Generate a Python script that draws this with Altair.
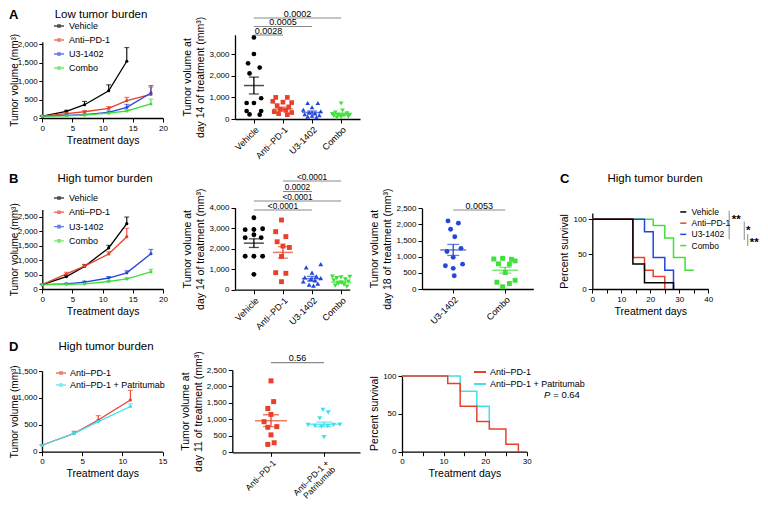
import json
import altair as alt
import pandas as pd

FONT = "Liberation Sans"
M = 8            # page margin
W, H = 752, 493  # whole drawing area

BLACK = "#000000"
RED = "#e8412b"
BLUE = "#2347d9"
GREEN = "#3fe03a"
CYAN = "#3fdff0"
GRAY = "#8a8a8a"

GROUPS = ["Vehicle", "Anti–PD-1", "U3-1402", "Combo"]
GROUP_COLORS = [BLACK, RED, BLUE, GREEN]
GROUP_SHAPES = ["circle", "square", "triangle-up", "triangle-down"]
D_GROUPS = ["Anti–PD-1", "Anti–PD-1 + Patritumab"]
D_COLORS = [RED, CYAN]
D_AXIS_LABELS = ["Anti–PD-1", ["Anti–PD-1 +", "Patritumab"]]

A_days = [0, 4, 7, 11, 14, 18]
A_vehicle = [50, 180, 360, 740, 1540]
A_vehicle_sem = [10, 30, 90, 160, 370]
A_anti = [50, 120, 170, 260, 470, 640]
A_anti_sem = [5, 20, 30, 50, 90, 200]
A_u3 = [50, 70, 90, 150, 290, 680]
A_u3_sem = [5, 10, 15, 40, 80, 200]
A_combo = [50, 60, 80, 130, 190, 380]
A_combo_sem = [5, 10, 15, 25, 40, 130]

A14_vehicle = [3780, 3010, 2580, 2380, 2110, 960, 740, 740, 370, 370, 210, 200]
A14_vehicle_jit = [0, 0, -0.2, 0.2, -0.15, 0.25, -0.25, 0.0, -0.25, 0.25, -0.15, 0.2]
A14_anti = [1000, 1000, 820, 780, 760, 620, 560, 450, 400, 340, 300, 250, 200]
A14_anti_jit = [-0.25, 0.15, -0.35, 0.0, 0.3, -0.2, 0.2, -0.1, 0.1, -0.3, 0.3, -0.15, 0.15]
A14_u3 = [740, 740, 540, 430, 360, 300, 260, 220, 180, 150, 110, 80]
A14_u3_jit = [-0.15, 0.2, 0.0, -0.3, 0.3, -0.1, 0.1, -0.25, 0.25, 0.0, -0.15, 0.15]
A14_combo = [720, 390, 300, 260, 230, 200, 180, 160, 140, 110, 90, 60]
A14_combo_jit = [0.0, 0.05, -0.2, 0.2, -0.3, 0.3, -0.1, 0.1, -0.25, 0.25, 0.0, -0.15]
A14_means = [1550, 460, 300, 220]
A14_sems = [390, 90, 70, 60]
A14_brackets = [(0, 1, 3891, "0.0028"), (0, 2, 4284, "0.0005"), (0, 3, 4678, "0.0002")]

B_days = [0, 4, 7, 11, 14, 18]
B_vehicle = [150, 430, 780, 1420, 2260]
B_vehicle_sem = [10, 40, 60, 90, 230]
B_anti = [150, 520, 790, 1210, 1810]
B_anti_sem = [10, 60, 60, 80, 290]
B_u3 = [150, 180, 240, 380, 560, 1220]
B_u3_sem = [10, 20, 30, 50, 70, 150]
B_combo = [150, 160, 180, 260, 350, 590]
B_combo_sem = [10, 10, 20, 30, 40, 90]

B14_vehicle = [3510, 2930, 2940, 2970, 2680, 2540, 2540, 1630, 1630, 1630, 750]
B14_vehicle_jit = [0.0, -0.3, 0.0, 0.3, 0.0, -0.3, 0.25, -0.3, 0.0, 0.3, 0.0]
B14_anti = [3400, 2830, 2590, 2340, 2130, 2060, 1620, 830, 800, 390]
B14_anti_jit = [-0.05, -0.25, 0.1, -0.2, 0.0, 0.22, -0.05, -0.25, 0.1, -0.05]
B14_u3 = [1250, 1090, 830, 650, 600, 560, 500, 450, 400, 300, 250, 200]
B14_u3_jit = [0.3, -0.2, 0.0, 0.15, -0.25, 0.3, -0.05, 0.1, -0.3, 0.2, -0.1, 0.05]
B14_combo = [640, 620, 600, 560, 500, 450, 400, 350, 300, 250, 200, 150]
B14_combo_jit = [-0.3, 0.3, 0.0, -0.15, 0.15, -0.25, 0.25, 0.0, -0.1, 0.1, -0.2, 0.2]
B14_means = [2270, 1820, 540, 370]
B14_sems = [210, 280, 110, 50]
B14_brackets = [(0, 2, 3888, "<0.0001"), (0, 3, 4327, "<0.0001"),
                (1, 2, 4790, "0.0002"), (1, 3, 5303, "<0.0001")]

B18_groups = ["U3-1402", "Combo"]
B18_u3 = [2110, 2040, 1850, 1620, 1260, 1160, 980, 770, 720, 640, 410]
B18_u3_jit = [-0.1, 0.1, -0.05, 0.03, 0.15, -0.12, 0.0, 0.18, -0.15, 0.0, 0.02]
B18_combo = [950, 930, 920, 870, 780, 770, 510, 270, 210, 170, 70]
B18_combo_jit = [-0.05, -0.22, 0.12, 0.19, -0.13, 0.08, 0.0, 0.19, -0.16, 0.08, -0.05]
B18_means = [1210, 580]
B18_sems = [170, 90]
B18_brackets = [(0, 1, 2447, "0.0053")]

C_vehicle_t = [0, 14, 18, 28]
C_vehicle_s = [100, 36, 9, 0]
C_anti_t = [0, 14, 18, 21, 25]
C_anti_s = [100, 45, 27, 18, 0]
C_u3_t = [0, 18, 21, 25, 28]
C_u3_s = [100, 82, 45, 27, 0]
C_combo_t = [0, 21, 25, 28, 32, 35]
C_combo_s = [100, 91, 73, 45, 27, 27]

D_days = [0, 4, 7, 11]
D_anti = [120, 340, 590, 960]
D_anti_sem = [10, 40, 80, 180]
D_patri = [120, 340, 560, 840]
D_patri_sem = [10, 20, 30, 50]

D11_anti = [2170, 1540, 1330, 1150, 930, 780, 760, 530, 290, 240]
D11_anti_jit = [0.0, 0.05, -0.06, 0.0, -0.13, 0.11, -0.06, 0.0, 0.06, -0.06]
D11_patri = [1290, 1210, 1030, 830, 800, 780, 800, 830, 840, 460]
D11_patri_jit = [-0.02, 0.08, -0.08, -0.3, -0.17, -0.05, 0.07, 0.18, 0.3, 0.0]
D11_means = [960, 850]
D11_sems = [180, 70]
D11_brackets = [(0, 1, 2723, "0.56")]

D_anti_t = [0, 11, 14, 18, 21, 25, 28]
D_anti_s = [100, 90, 60, 40, 30, 10, 0]
D_patri_t = [0, 14, 18, 21]
D_patri_s = [100, 80, 60, 40]

# page-pixel geometry of each panel: x domain, x pixel span, y domain, y pixel span
GEO = {
    "A_line": ([0, 20], [42.3, 163], [0, 2070], [118, 41.7]),
    "A_dot": ([-0.65, 3.65], [235, 360], [0, 3900], [119, 34.8]),
    "B_line": ([0, 20], [42.3, 163], [0, 2750], [289, 209.5]),
    "B_dot1": ([-0.65, 3.3], [235, 349.8], [0, 4000], [289.7, 207.7]),
    "B_dot2": ([-0.6, 1.54], [422, 533.3], [0, 2500], [289, 208.3]),
    "C_surv": ([0, 40], [592.3, 708.3], [0, 109], [289, 213]),
    "D_line": ([0, 15], [42, 162.5], [0, 1500], [451.7, 371]),
    "D_dot": ([-0.73, 1.68], [232.3, 360], [0, 2500], [452.3, 370]),
    "D_surv": ([0, 30], [402, 526.7], [0, 102], [451.7, 374.5]),
}

DOT_PATH = "M-1,0H1M-0.22,-0.22H0.22V0.22H-0.22Z"


def scales(key):
    xd, xr, yd, yr = GEO[key]
    xs = alt.Scale(domain=xd, range=[xr[0] - M, xr[1] - M], nice=False, zero=False)
    ys = alt.Scale(domain=yd, range=[yr[0] - M, yr[1] - M], nice=False, zero=False)
    return xs, ys, xr[0] - M, yr[0] - M


def legend(xp, yp, size, font, row_pad, offset, symtype, sw):
    return alt.Legend(orient="none", legendX=xp - M, legendY=yp - M, title=None,
                      symbolType=symtype, symbolSize=size, symbolStrokeWidth=sw,
                      labelFont=FONT, labelFontSize=font, labelColor="black",
                      rowPadding=row_pad, labelOffset=offset, padding=0)


def growth_panel(key, days, names, colors, series, sems, yvals, xvals, leg):
    xs, ys, x0, y0 = scales(key)
    rows = []
    for name, vals, ss in zip(names, series, sems):
        for d, v, s in zip(days, vals, ss):
            rows.append({"day": d, "grp": name, "mean": v, "hi": v + s})
    base = alt.Chart(pd.DataFrame(rows))
    col = alt.Color("grp:N", scale=alt.Scale(domain=names, range=colors), legend=leg)
    xa = alt.Axis(orient="bottom", offset=y0 - H, values=xvals, title="Treatment days")
    ya = alt.Axis(orient="left", offset=-x0, values=yvals, title="Tumor volume (mm³)",
                  titleFontSize=10, titleX=-(x0 - 1.5), titleBaseline="top",
                  tickSize=3.5, labelPadding=1.5)
    X = alt.X("day:Q", scale=xs, axis=xa)

    def Y(f):
        return alt.Y(f, scale=ys, axis=ya)

    line = base.mark_line(strokeWidth=1.3).encode(x=X, y=Y("mean:Q"), color=col)
    err = base.mark_rule(strokeWidth=1.1).encode(x=X, y=Y("mean:Q"), y2="hi:Q", color=col)
    cap = base.mark_tick(orient="horizontal", size=5, thickness=1.1).encode(
        x=X, y=Y("hi:Q"), color=col)
    dots = base.mark_point(filled=True, size=10, opacity=1).encode(
        x=X, y=Y("mean:Q"), color=col)
    return alt.layer(line, err, cap, dots)


def dot_panel(key, names, colors, shapes, values, jitters, means, sems, yvals, ytitle,
              axis_labels, brackets, mean_w, cap_w, psize, bfont=9, lfont=9):
    xs, ys, x0, y0 = scales(key)
    rows = []
    for i, (n, vs, js) in enumerate(zip(names, values, jitters)):
        for v, j in zip(vs, js):
            rows.append({"g": i, "grp": n, "xp": i + j, "v": v})
    stats = pd.DataFrame({"g": list(range(len(names))), "grp": names, "mean": means,
                          "lo": [m - s for m, s in zip(means, sems)],
                          "hi": [m + s for m, s in zip(means, sems)]})
    bdf = pd.DataFrame([{"x1": a, "x2": b, "y": y, "label": t} for a, b, y, t in brackets])
    col = alt.Color("grp:N", scale=alt.Scale(domain=names, range=colors), legend=None)
    shp = alt.Shape("grp:N", scale=alt.Scale(domain=names, range=shapes), legend=None)
    expr = json.dumps(axis_labels, ensure_ascii=False) + "[datum.value]"
    xa = alt.Axis(orient="bottom", offset=y0 - H, values=list(range(len(names))),
                  labelExpr=expr, labelAngle=-45, labelAlign="right", labelBaseline="top",
                  labelFontSize=lfont, labelLineHeight=lfont + 0.5, title=None)
    ya = alt.Axis(orient="left", offset=-x0, values=yvals, title=ytitle)

    def X(f):
        return alt.X(f, scale=xs, axis=xa)

    def Y(f):
        return alt.Y(f, scale=ys, axis=ya)

    pts = alt.Chart(pd.DataFrame(rows)).mark_point(filled=True, size=psize, opacity=1).encode(
        x=X("xp:Q"), y=Y("v:Q"), color=col, shape=shp)
    sb = alt.Chart(stats)
    meanl = sb.mark_tick(orient="horizontal", size=mean_w, thickness=1.5).encode(
        x=X("g:Q"), y=Y("mean:Q"), color=col)
    semv = sb.mark_rule(strokeWidth=1.3).encode(x=X("g:Q"), y=Y("lo:Q"), y2="hi:Q", color=col)
    caplo = sb.mark_tick(orient="horizontal", size=cap_w, thickness=1.3).encode(
        x=X("g:Q"), y=Y("lo:Q"), color=col)
    caphi = sb.mark_tick(orient="horizontal", size=cap_w, thickness=1.3).encode(
        x=X("g:Q"), y=Y("hi:Q"), color=col)
    bb = alt.Chart(bdf)
    bl = bb.mark_rule(color=GRAY, strokeWidth=1.1).encode(
        x=X("x1:Q"), x2="x2:Q", y=Y("y:Q"))
    bt = bb.transform_calculate(xm="(datum.x1 + datum.x2) / 2").mark_text(
        font=FONT, fontSize=bfont, baseline="alphabetic", dy=-1.3, color="black").encode(
        x=X("xm:Q"), y=Y("y:Q"), text="label:N")
    return alt.layer(pts, meanl, semv, caplo, caphi, bl, bt)


def surv_panel(key, names, colors, times, survs, xvals, leg, extra):
    xs, ys, x0, y0 = scales(key)
    rows = []
    for n, ts, ss in zip(names, times, survs):
        for t, s in zip(ts, ss):
            rows.append({"t": t, "s": s, "grp": n})
    df = pd.DataFrame(rows)
    col = alt.Color("grp:N", scale=alt.Scale(domain=names, range=colors), legend=leg)
    xa = alt.Axis(orient="bottom", offset=y0 - H, values=xvals, title="Treatment days",
                  labelExpr="datum.value % 10 == 0 ? datum.label : ''")
    ya = alt.Axis(orient="left", offset=-x0, values=[0, 50, 100], title="Percent survival")

    def X(f):
        return alt.X(f, scale=xs, axis=xa)

    def Y(f):
        return alt.Y(f, scale=ys, axis=ya)

    layers = []
    for n in reversed(names):
        layers.append(alt.Chart(df).transform_filter(alt.datum.grp == n).mark_line(
            interpolate="step-after", strokeWidth=1.5).encode(
            x=X("t:Q"), y=Y("s:Q"), color=col))
    layers += extra(X, Y)
    return alt.layer(*layers)


def c_annot(X, Y):
    lines = pd.DataFrame({"x": [47.2, 52.4, 53.6], "y1": [112.3, 96.6, 78.9],
                          "y2": [71.3, 70.3, 61.7]})
    stars = pd.DataFrame({"x": [48.1, 53.0, 54.3], "y": [103.3, 88.2, 70.3],
                          "txt": ["**", "*", "**"]})
    r = alt.Chart(lines).mark_rule(color=GRAY, strokeWidth=1).encode(
        x=X("x:Q"), y=Y("y1:Q"), y2="y2:Q")
    t = alt.Chart(stars).mark_text(font=FONT, fontSize=11.5, fontWeight="bold", align="left",
                                   baseline="alphabetic", dy=6.5, color="black").encode(
        x=X("x:Q"), y=Y("y:Q"), text="txt:N")
    return [r, t]


def d_annot(X, Y):
    p = pd.DataFrame({"x": [35.7], "y": [74.9], "txt": ["P"]})
    v = pd.DataFrame({"x": [42.8], "y": [74.9], "txt": ["= 0.64"]})
    tp = alt.Chart(p).mark_text(font=FONT, fontSize=9.5, fontStyle="italic", align="right",
                                baseline="middle", color="black").encode(
        x=X("x:Q"), y=Y("y:Q"), text="txt:N")
    tv = alt.Chart(v).mark_text(font=FONT, fontSize=9.5, align="right",
                                baseline="middle", color="black").encode(
        x=X("x:Q"), y=Y("y:Q"), text="txt:N")
    return [tp, tv]


def label(text, xp, yp, size, weight="normal", align="center", baseline="middle"):
    return alt.Chart(pd.DataFrame({"t": [text]})).mark_text(
        font=FONT, fontSize=size, fontWeight=weight, align=align, baseline=baseline,
        color="black").encode(text="t:N", x=alt.value(xp - M), y=alt.value(yp - M))


panels = [
    growth_panel("A_line", A_days, GROUPS, GROUP_COLORS,
                 [A_vehicle, A_anti, A_u3, A_combo],
                 [A_vehicle_sem, A_anti_sem, A_u3_sem, A_combo_sem],
                 [0, 500, 1000, 1500, 2000], [0, 5, 10, 15, 20],
                 legend(53, 20, 100, 9, 3, 4, DOT_PATH, 1.4)),
    dot_panel("A_dot", GROUPS, GROUP_COLORS, GROUP_SHAPES,
              [A14_vehicle, A14_anti, A14_u3, A14_combo],
              [A14_vehicle_jit, A14_anti_jit, A14_u3_jit, A14_combo_jit],
              A14_means, A14_sems, [0, 1000, 2000, 3000],
              ["Tumor volume at", "day 14 of treatment (mm³)"], GROUPS, A14_brackets,
              20, 10, 22),
    growth_panel("B_line", B_days, GROUPS, GROUP_COLORS,
                 [B_vehicle, B_anti, B_u3, B_combo],
                 [B_vehicle_sem, B_anti_sem, B_u3_sem, B_combo_sem],
                 [0, 500, 1000, 1500, 2000, 2500], [0, 5, 10, 15, 20],
                 legend(53, 192, 100, 9, 3.3, 4, DOT_PATH, 1.4)),
    dot_panel("B_dot1", GROUPS, GROUP_COLORS, GROUP_SHAPES,
              [B14_vehicle, B14_anti, B14_u3, B14_combo],
              [B14_vehicle_jit, B14_anti_jit, B14_u3_jit, B14_combo_jit],
              B14_means, B14_sems, [0, 1000, 2000, 3000, 4000],
              ["Tumor volume at", "day 14 of treatment (mm³)"], GROUPS, B14_brackets,
              20, 10, 24, bfont=8.3),
    dot_panel("B_dot2", B18_groups, [BLUE, GREEN], ["circle", "square"],
              [B18_u3, B18_combo], [B18_u3_jit, B18_combo_jit],
              B18_means, B18_sems, [0, 500, 1000, 1500, 2000, 2500],
              ["Tumor volume at", "day 18 of treatment (mm³)"], B18_groups, B18_brackets,
              26, 12, 24),
    surv_panel("C_surv", GROUPS, GROUP_COLORS,
               [C_vehicle_t, C_anti_t, C_u3_t, C_combo_t],
               [C_vehicle_s, C_anti_s, C_u3_s, C_combo_s],
               list(range(0, 41, 5)),
               legend(679, 207.7, 36, 8.5, 2.2, 4, "stroke", 1.5), c_annot),
    growth_panel("D_line", D_days, D_GROUPS, D_COLORS,
                 [D_anti, D_patri], [D_anti_sem, D_patri_sem],
                 [0, 500, 1000, 1500], [0, 5, 10, 15],
                 legend(55, 367, 100, 9, 1, 3, DOT_PATH, 1.4)),
    dot_panel("D_dot", D_GROUPS, D_COLORS, ["square", "triangle-down"],
              [D11_anti, D11_patri], [D11_anti_jit, D11_patri_jit],
              D11_means, D11_sems, [0, 500, 1000, 1500, 2000, 2500],
              ["Tumor volume at", "day 11 of treatment (mm³)"], D_AXIS_LABELS, D11_brackets,
              32, 16, 25, lfont=8.5),
    surv_panel("D_surv", D_GROUPS, D_COLORS, [D_anti_t, D_patri_t], [D_anti_s, D_patri_s],
               list(range(0, 31, 5)),
               legend(473, 365, 144, 9, 0, 3, "stroke", 2), d_annot),
]

texts = [
    label("A", 9, 9, 13, "bold", "left", "top"),
    label("Low tumor burden", 101, 9, 11.5, baseline="top"),
    label("B", 9, 179, 13, "bold", "left"),
    label("High tumor burden", 105, 179, 11.5),
    label("C", 560, 179, 13, "bold", "left"),
    label("High tumor burden", 655, 179, 11.5),
    label("D", 9, 347, 13, "bold", "left"),
    label("High tumor burden", 106, 347, 11.5),
]

chart = alt.layer(*panels, *texts).resolve_scale(
    x="independent", y="independent", color="independent", shape="independent"
).properties(
    width=W, height=H, padding=0, autosize=alt.AutoSizeParams(type="none")
).configure_view(stroke=None).configure_axis(
    labelFont=FONT, labelFontSize=8, labelColor="black", labelPadding=2,
    titleFont=FONT, titleFontSize=10.5, titleFontWeight="normal", titleColor="black",
    titlePadding=3, titleLineHeight=13,
    domainColor="black", domainWidth=1.3, tickColor="black", tickWidth=1, tickSize=4,
    grid=False, labelOverlap=False, labelFlush=False,
)

chart.save("out.html", embed_options={"renderer": "svg", "actions": False})
